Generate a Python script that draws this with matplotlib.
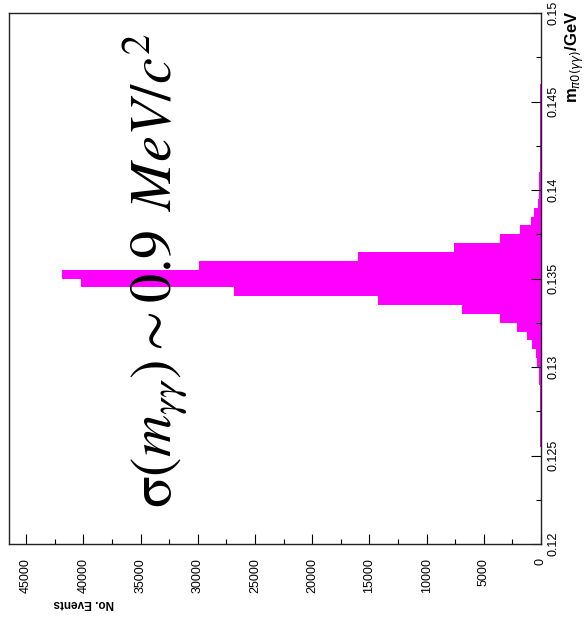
import numpy as np
import matplotlib
matplotlib.use("Agg")
import matplotlib.pyplot as plt
from matplotlib.ticker import MultipleLocator

# pi0 -> gamma gamma invariant mass, 0.5 MeV bins from 0.12 to 0.15 GeV
bin_edges = np.linspace(0.12, 0.15, 61)
counts = [
    0, 0, 0, 0, 0, 0, 0, 0, 0, 0,
    40, 45, 55, 65, 75, 90, 110, 130, 160, 200,
    330, 480, 770, 1200, 2070, 3580, 6880, 14250, 26860, 40240,
    41840, 29870, 16020, 7580, 3580, 1850, 880, 590, 290, 200,
    170, 140, 120, 110, 100, 95, 90, 85, 80, 75,
    70, 60, 0, 0, 0, 0, 0, 0, 0, 0,
]
count_ticks = [0, 5000, 10000, 15000, 20000, 25000, 30000, 35000, 40000, 45000]
mass_ticks = [0.12, 0.125, 0.13, 0.135, 0.14, 0.145, 0.15]

W, H = 587, 621
fig = plt.figure(figsize=(W / 100, H / 100), dpi=100)
ax = fig.add_axes([9 / W, 1 - 544 / H, (541 - 9) / W, (544 - 13) / H])

# histogram lies on its side: mass runs up, counts grow to the left
ax.stairs(counts, bin_edges, orientation="horizontal", fill=True,
          color="#ff00ff", baseline=0)
ax.set_ylim(0.12, 0.15)
ax.set_xlim(46500, 0)

for s in ax.spines.values():
    s.set_linewidth(1.0)
    s.set_color("#222222")

lab_font = dict(family="Liberation Sans", size=9)
ax.xaxis.set_minor_locator(MultipleLocator(2500))
ax.set_xticks(count_ticks)
ax.set_xticklabels([str(v) for v in count_ticks], rotation=90, fontdict=lab_font)
ax.tick_params(axis="x", which="both", direction="in", bottom=True, top=False,
               pad=10)
ax.tick_params(axis="x", which="major", length=7.5, width=0.8)
ax.tick_params(axis="x", which="minor", length=3.6, width=0.8)

ax.yaxis.tick_right()
ax.yaxis.set_minor_locator(MultipleLocator(0.0025))
ax.set_yticks(mass_ticks)
ax.set_yticklabels([f"{v:g}" for v in mass_ticks], rotation=90, fontdict=lab_font)
for t in ax.get_yticklabels():
    t.set_verticalalignment("center")
ax.tick_params(axis="y", which="both", direction="in", right=True, left=False,
               pad=4.5)
ax.tick_params(axis="y", which="major", length=7.5, width=0.8)
ax.tick_params(axis="y", which="minor", length=3.6, width=0.8)

# axis titles
fig.text(575 / W, 1 - 11 / H, r"m$_{\pi0(\gamma\gamma)}$/GeV", rotation=90,
         ha="center", va="top", family="Liberation Sans", weight="bold",
         size=12)
fig.text(84 / W, 1 - 603 / H, "No. Events", rotation=180, ha="center",
         va="center", family="Liberation Sans", weight="bold", size=8.5)

# resolution note
fig.text(172 / W, 1 - 508 / H,
         r"$\mathrm{\sigma}(m_{\gamma\gamma})\sim0.9\;\,MeV/c^{2}$",
         rotation=90, rotation_mode="anchor", ha="left", va="baseline",
         family="Liberation Serif", math_fontfamily="stix", size=42)

fig.savefig("out.png", dpi=100)
